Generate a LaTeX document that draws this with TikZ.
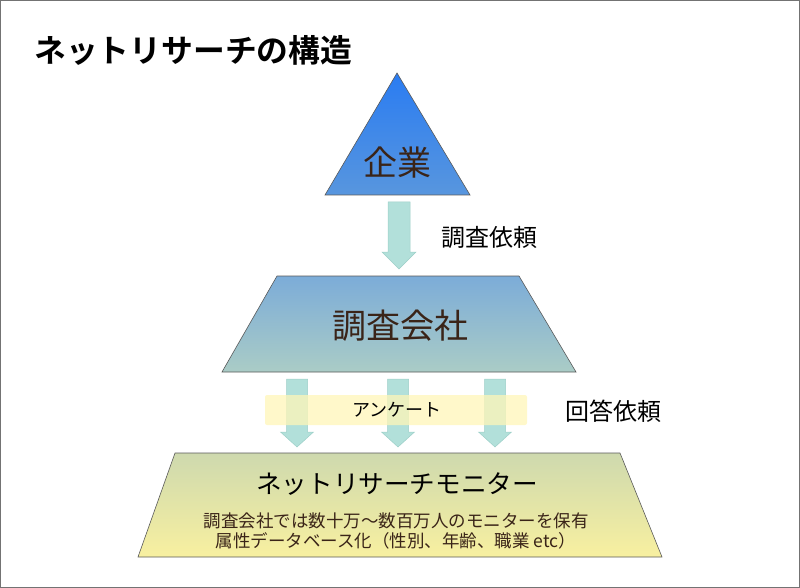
\documentclass[tikz,border=0pt]{standalone}
\usepackage{fontspec}
\setmainfont{Noto Sans CJK JP}
\newfontfamily\jpbold{Noto Sans CJK JP}[BoldFont={* Bold}]
\begin{document}
\begin{tikzpicture}[x=1pt,y=-1pt,
  shapeline/.style={draw=black!65,line width=0.6pt},
  blockarrow/.style={fill=arrowfill,draw=arrowdraw,line width=0.5pt},
  big/.style={text=textbrown,font=\fontsize{34}{40}\selectfont,inner sep=0pt},
  lbl/.style={text=black,font=\fontsize{24}{28}\selectfont,inner sep=0pt}]
\definecolor{arrowfill}{HTML}{B2E0DA}
\definecolor{arrowdraw}{HTML}{9CCFC8}
\definecolor{textbrown}{HTML}{3A2418}
\definecolor{triTop}{HTML}{2A7CF2}
\definecolor{triBot}{HTML}{5896DE}
\definecolor{midTop}{HTML}{7CACD8}
\definecolor{midBot}{HTML}{AACCC6}
\definecolor{lowTop}{HTML}{CED9AE}
\definecolor{lowBot}{HTML}{F8F0A0}
\definecolor{band}{HTML}{FFF6B8}
\useasboundingbox (0,0) rectangle (800,588);
\draw[black!55,line width=1pt] (0.5,0.5) rectangle (799.5,587.5);
% title
\node[anchor=west,inner sep=0pt,font=\jpbold\bfseries\fontsize{31.8}{36}\selectfont] (title) at (34,50) {ネットリサーチの構造};
% triangle
\path[shapeline,top color=triTop,bottom color=triBot] (397,73) -- (470,195) -- (325,195) -- cycle;
\node[big] (kigyo) at (397,163) {企業};
% arrow 1
\path[blockarrow] (388,202) -- (410,202) -- (410,252) -- (416,252) -- (399,269) -- (382,252) -- (388,252) -- cycle;
\node[lbl,anchor=west] (irai1) at (441,237) {調査依頼};
% middle trapezoid
\path[shapeline,top color=midTop,bottom color=midBot] (277,276) -- (519,276) -- (576,372) -- (222,372) -- cycle;
\node[big] (chosa) at (400,326) {調査会社};
% three arrows
\foreach \cx in {297,398,495}{
  \path[blockarrow] (\cx-10.5,379) -- (\cx+10.5,379) -- (\cx+10.5,432) -- (\cx+16.5,432) -- (\cx,447) -- (\cx-16.5,432) -- (\cx-10.5,432) -- cycle;
}
% band
\path[fill=band,fill opacity=0.75,rounded corners=2pt] (265,395) rectangle (527,425);
\node[inner sep=0pt,font=\fontsize{18}{22}\selectfont] (enq) at (397,410) {アンケート};
\node[lbl,anchor=west] (irai2) at (565,411) {回答依頼};
% lower trapezoid
\path[shapeline,top color=lowTop,bottom color=lowBot] (175,453) -- (620,453) -- (662,557) -- (138,557) -- cycle;
\node[inner sep=0pt,text=black,font=\fontsize{25.6}{30}\selectfont] (monitor) at (397,484) {ネットリサーチモニター};
\node[inner sep=0pt,text=textbrown,font=\fontsize{17.5}{19.5}\selectfont,align=center] (desc) at (396,531) {調査会社では数十万～数百万人のモニターを保有\\属性データベース化（性別、年齢、職業 etc）};
\end{tikzpicture}
\end{document}
